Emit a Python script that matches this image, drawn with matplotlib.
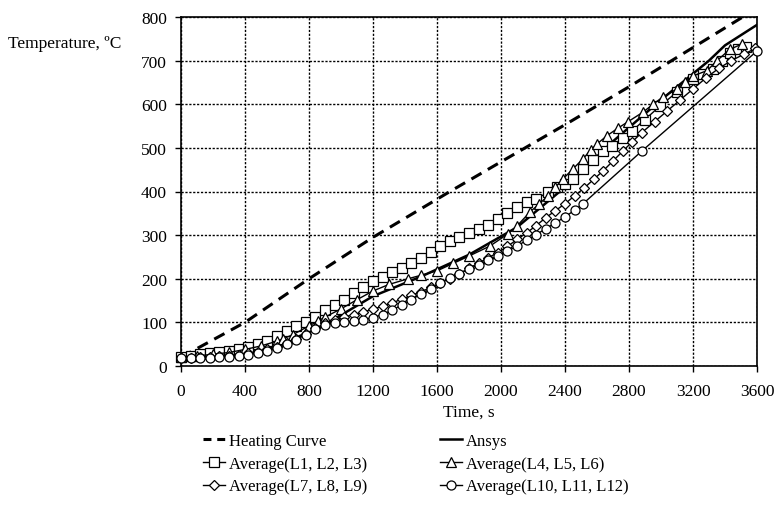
import matplotlib
matplotlib.use('Agg')
import matplotlib.pyplot as plt
from matplotlib.lines import Line2D

plt.rcParams['font.family'] = ['Liberation Serif', 'DejaVu Serif']
plt.rcParams['font.size'] = 12.5

# ---------------- data ----------------
heat_t = [0, 400, 800, 1200, 1681, 2000, 2400, 2800, 3200, 3600]
heat_T = [20, 100, 200, 295, 400, 468, 553, 640, 730, 820]

ansys_t = [0, 300, 600, 900, 1200, 1500, 1800, 2100, 2400, 2700, 3000, 3300, 3400, 3600]
ansys_T = [20, 24, 45, 95, 160, 205, 255, 318, 410, 515, 610, 700, 735, 782]

sq_t = [0, 60, 120, 180, 240, 300, 360, 420, 480, 540, 600, 660, 720, 780, 840, 900,
        960, 1020, 1080, 1140, 1200, 1260, 1320, 1380, 1440, 1500, 1560, 1620, 1680,
        1740, 1800, 1860, 1920, 1980, 2040, 2100, 2160, 2220, 2294, 2350, 2400, 2450,
        2513, 2575, 2638, 2694, 2760, 2819, 2900, 2994, 3100, 3200, 3260, 3325, 3380,
        3431, 3480, 3530]
sq_T = [20, 24, 28, 30, 32, 35, 38, 43, 50, 58, 68, 80, 92, 102, 113, 128,
        140, 152, 167, 182, 195, 205, 215, 224, 235, 248, 262, 276, 287,
        296, 304, 314, 324, 336, 350, 365, 376, 382, 399, 410, 418, 429,
        452, 473, 493, 505, 522, 539, 565, 596, 628, 658, 670, 681, 700,
        718, 726, 731]

tri_t = [0, 100, 200, 300, 400, 500, 600, 637, 700, 800, 856, 900, 1000, 1100, 1200,
         1300, 1419, 1500, 1600, 1700, 1800, 1931, 2044, 2100, 2181, 2240, 2294, 2340,
         2388, 2450, 2513, 2560, 2600, 2663, 2730, 2794, 2888, 2950, 3013, 3100, 3150,
         3200, 3288, 3350, 3431, 3506]
tri_T = [20, 23, 27, 31, 38, 46, 57, 62, 72, 92, 103, 112, 131, 152, 172,
         187, 200, 208, 218, 235, 252, 275, 303, 321, 353, 372, 390, 410,
         429, 452, 475, 495, 509, 528, 545, 560, 582, 600, 617, 635, 650,
         665, 677, 700, 726, 738]

dia_t = [0, 60, 120, 180, 240, 300, 360, 420, 480, 540, 600, 660, 720, 780, 840, 900,
         960, 1020, 1080, 1140, 1200, 1260, 1320, 1380, 1440, 1500, 1560, 1620, 1680,
         1740, 1800, 1860, 1920, 1980, 2040, 2100, 2160, 2220, 2280, 2340, 2400, 2460,
         2520, 2580, 2640, 2700, 2760, 2820, 2880, 2960, 3040, 3120, 3200, 3280, 3360,
         3440, 3520, 3590]
dia_T = [18, 19, 20, 21, 22, 24, 26, 29, 33, 38, 44, 52, 62, 74, 86, 98,
         106, 112, 118, 124, 130, 137, 145, 153, 162, 170, 180, 190, 200,
         212, 224, 236, 248, 260, 274, 290, 305, 322, 340, 356, 372, 390,
         408, 428, 448, 470, 492, 514, 535, 560, 585, 610, 635, 660, 682,
         700, 715, 728]

cir_t = [0, 60, 120, 180, 240, 300, 360, 420, 480, 540, 600, 660, 720, 780, 840, 900,
         960, 1020, 1080, 1140, 1200, 1260, 1320, 1380, 1440, 1500, 1560, 1620, 1680,
         1740, 1800, 1860, 1920, 1980, 2040, 2100, 2160, 2220, 2280, 2340, 2400, 2460,
         2513, 2881, 3600]
cir_T = [18, 18, 19, 19, 20, 21, 23, 26, 30, 35, 42, 50, 60, 72, 84, 94,
         99, 101, 103, 106, 111, 118, 128, 140, 152, 165, 177, 190, 202,
         212, 222, 232, 242, 252, 263, 275, 288, 301, 315, 328, 342, 357,
         372, 493, 722]

x_ticks = [0, 400, 800, 1200, 1600, 2000, 2400, 2800, 3200, 3600]
y_ticks = [0, 100, 200, 300, 400, 500, 600, 700, 800]

labels = ['Heating Curve', 'Ansys', 'Average(L1, L2, L3)', 'Average(L4, L5, L6)',
          'Average(L7, L8, L9)', 'Average(L10, L11, L12)']

# ---------------- figure ----------------
W, H = 780, 506
fig = plt.figure(figsize=(W / 100, H / 100), dpi=100)
ax = fig.add_axes([181 / W, 1 - 367 / H, (757 - 181) / W, (367 - 18) / H])

ax.set_xlim(0, 3600)
ax.set_ylim(0, 800)
ax.set_xticks(x_ticks)
ax.set_yticks(y_ticks)
ax.tick_params(direction='out', length=4, width=1, colors='black', labelsize=12.5)
ax.tick_params(axis='y', pad=6)
ax.tick_params(axis='x', pad=8)
for s in ax.spines.values():
    s.set_color('black')
    s.set_linewidth(1.2)
ax.set_axisbelow(True)
ax.grid(True, color='black', linestyle=(0, (1.6, 1.2)), linewidth=1.0)

mk = dict(color='black', linewidth=1.0, markerfacecolor='white',
          markeredgecolor='black', markeredgewidth=0.9, clip_on=False)

l_ansys, = ax.plot(ansys_t, ansys_T, color='black', linewidth=1.8, zorder=2)
l_heat, = ax.plot(heat_t, heat_T, color='black', linewidth=2.2,
                  linestyle=(0, (3.8, 2.4)), zorder=2)
l_sq, = ax.plot(sq_t, sq_T, marker='s', markersize=6.5, zorder=3, **mk)
l_tri, = ax.plot(tri_t, tri_T, marker='^', markersize=7.5, zorder=4, **mk)
l_dia, = ax.plot(dia_t, dia_T, marker='D', markersize=5.5, zorder=5, **mk)
l_cir, = ax.plot(cir_t, cir_T, marker='o', markersize=6.5, zorder=6, **mk)

# legend proxy for the dashed heating curve (shorter dashes so "- -" fits the handle)
h_heat = Line2D([], [], color='black', linewidth=2.2, linestyle=(0, (2.6, 1.9)))

fig.text(8 / W, 1 - 44 / H, 'Temperature, \u00baC', ha='left', va='center', fontsize=12.5)
fig.text(469 / W, 1 - 413 / H, 'Time, s', ha='center', va='center', fontsize=12.5)

leg_kw = dict(loc='upper left', frameon=False, handlelength=1.3, handletextpad=0.25,
              labelspacing=0.4, borderaxespad=0, borderpad=0, fontsize=12)
fig.legend([h_heat, l_sq, l_dia], [labels[0], labels[2], labels[4]],
           bbox_to_anchor=(203 / W, 1 - 434 / H), **leg_kw)
fig.legend([l_ansys, l_tri, l_cir], [labels[1], labels[3], labels[5]],
           bbox_to_anchor=(440 / W, 1 - 434 / H), **leg_kw)

fig.savefig('out.png', dpi=100, facecolor='white')
